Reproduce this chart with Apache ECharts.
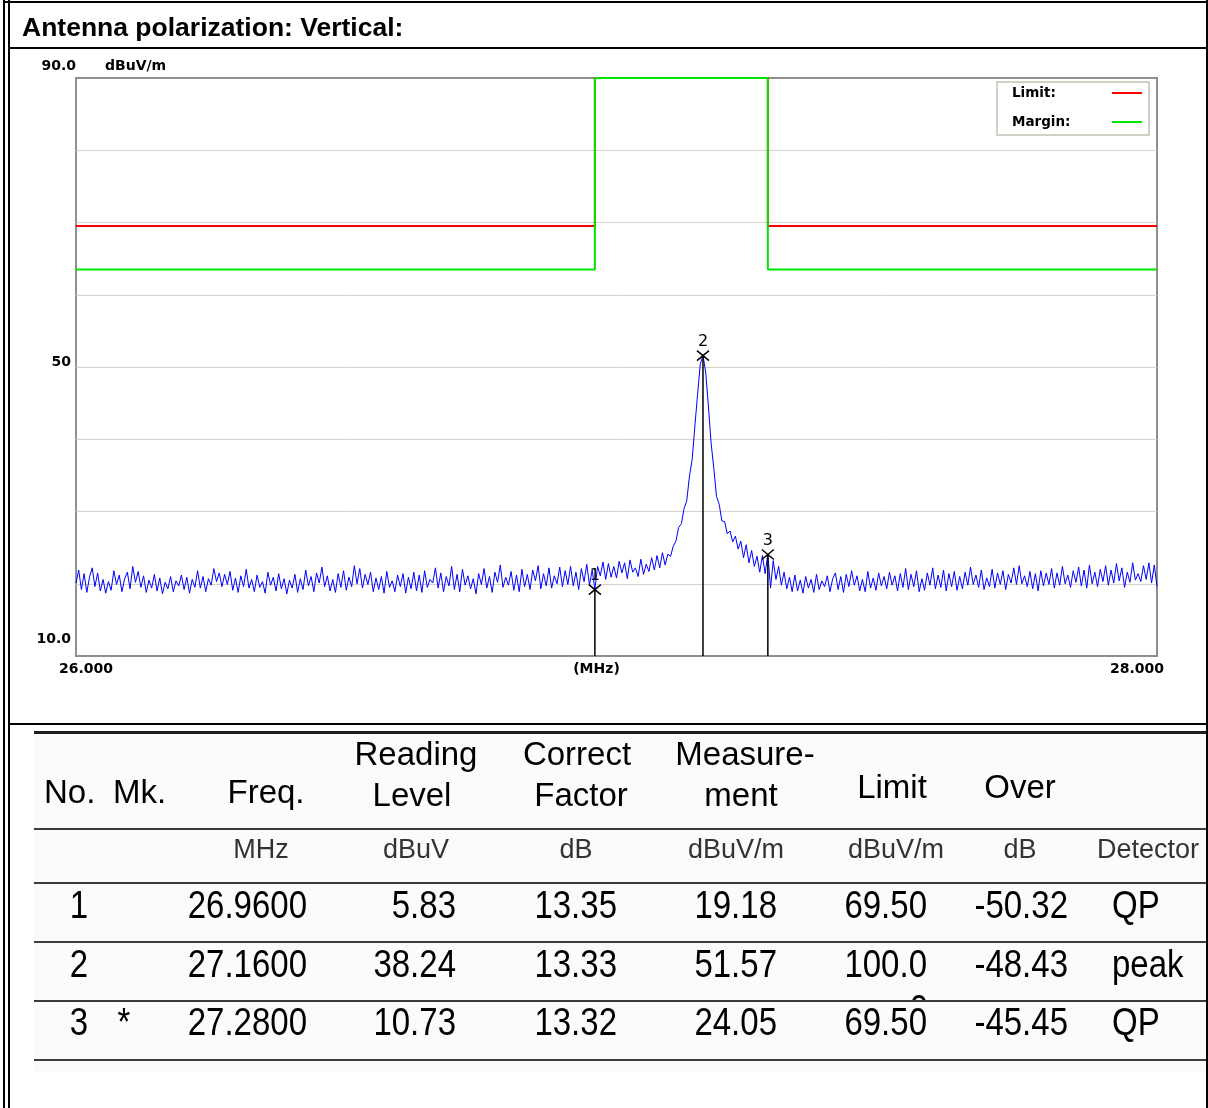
<!DOCTYPE html>
<html>
<head>
<meta charset="utf-8">
<script src="https://cdn.jsdelivr.net/npm/echarts@6/dist/echarts.min.js"></script>
<style>
  html, body { margin:0; padding:0; background:#fff; }
  body { position:relative; width:1208px; height:1108px; overflow:hidden; }
  #chart { position:absolute; left:0; top:0; width:1208px; height:1108px; z-index:2; }
</style>
</head>
<body>
<div style="position:absolute;left:34px;top:733px;width:1172px;height:339px;background:#fbfbfb;z-index:1"></div>
<div id="chart"></div>
<script>
// ---------------- DATA ----------------
const titleText = 'Antenna polarization: Vertical:';
const yUnit = 'dBuV/m';
const xUnit = '(MHz)';
const xTickValues = [26, 28];
const xTickLabels = ['26.000', '28.000'];
const yTickValues = [10, 50, 90];
const yTickLabels = ['10.0', '50', '90.0'];

// Limit / margin step lines (MHz, dBuV/m)
const limitFreq   = [26.00, 26.96, 26.96, 27.28, 27.28, 28.00];
const limitLevel  = [69.5, 69.5, 100.0, 100.0, 69.5, 69.5];
const marginLevel = [63.5, 63.5, 94.0, 94.0, 63.5, 63.5];

// Markers
const markerNo    = [1, 2, 3];
const markerFreq  = [26.96, 27.16, 27.28];
const markerLevel = [19.18, 51.57, 24.05];

const traceStartMHz = 26.0;
const traceStepMHz = 0.005;
const traceLevel = [
 20.1,21.9,19.2,21.4,18.8,20.9,22.2,19.6,21.5,19.0,20.6,18.7,20.3,19.1,21.8,19.9,21.2,18.9,20.7,21.6,
 19.3,22.4,20.2,21.7,19.5,21.1,18.8,20.5,19.4,21.3,19.0,20.8,18.6,20.2,19.3,21.0,18.9,20.4,19.7,21.2,
 19.2,20.9,18.7,20.6,19.5,21.8,19.4,21.0,18.9,20.7,19.8,22.1,20.3,21.5,19.6,21.3,19.9,21.7,19.1,20.8,
 18.8,21.1,19.6,22.0,19.4,20.6,18.9,21.2,19.5,20.3,18.7,21.6,19.8,20.9,19.0,21.4,19.3,20.7,18.6,20.5,
 19.4,21.3,18.8,20.7,19.2,21.9,19.7,21.0,18.9,21.5,20.1,22.3,19.6,21.1,19.0,20.6,18.8,21.4,19.5,21.8,
 19.1,20.9,19.6,22.5,20.0,22.1,19.4,21.3,19.9,21.6,18.9,20.8,19.2,21.0,18.7,21.7,19.5,20.4,18.9,21.2,
 19.6,21.4,18.7,20.9,19.3,21.6,19.0,21.2,18.8,21.8,19.5,20.6,20.1,22.2,19.4,21.5,18.9,21.0,19.7,22.4,
 19.2,21.3,18.9,22.0,19.8,21.1,19.3,20.7,18.6,21.4,19.9,22.1,19.4,21.0,18.8,21.6,20.2,22.6,19.5,20.9,
 19.8,21.7,19.1,21.2,18.9,22.0,19.6,21.3,19.2,21.9,20.4,22.5,19.3,21.4,19.7,22.2,19.4,21.1,20.0,22.3,
 19.6,21.8,19.9,22.4,19.7,21.6,19.2,22.1,20.3,22.7,19.8,21.9,19.2,22.4,21.1,23.0,20.6,22.8,20.9,22.4,
 20.8,23.1,21.5,22.9,20.7,23.3,21.6,22.2,21.0,23.4,21.3,22.7,21.7,23.6,21.9,23.9,22.2,24.3,22.6,24.1,
 23.8,25.2,25.9,27.8,28.3,30.4,31.5,34.9,37.2,41.8,46.2,50.4,51.6,49.3,44.6,39.5,36.0,32.1,31.0,28.7,
 28.6,26.9,27.3,25.8,26.6,24.8,25.9,23.6,25.4,22.9,24.6,22.4,23.8,21.6,23.9,21.4,24.1,19.4,23.2,20.6,
 22.4,19.8,21.6,19.3,20.9,18.9,21.2,19.0,20.5,18.7,21.0,19.4,20.6,18.8,21.3,19.2,20.4,19.6,21.1,18.9,
 20.7,21.5,19.2,21.0,18.8,21.3,19.6,21.8,19.8,21.1,19.0,20.6,18.9,21.7,19.4,20.8,19.1,21.5,19.7,21.0,
 19.3,21.6,19.8,21.1,19.0,21.4,19.5,22.1,19.2,21.3,19.6,21.8,18.9,20.7,19.1,21.5,19.8,22.2,19.3,21.2,
 19.5,21.9,19.0,21.4,19.6,21.7,19.1,21.0,19.3,21.6,19.8,22.3,19.9,21.2,19.5,21.9,19.2,20.8,19.6,22.0,
 19.4,21.5,19.9,21.8,19.2,21.3,20.1,22.2,19.9,22.5,20.0,21.1,19.6,21.7,19.3,21.4,19.0,21.8,19.7,21.5,
 19.9,22.1,19.4,21.5,19.8,22.4,20.0,21.2,19.5,21.8,20.2,22.3,19.7,21.9,19.4,22.6,20.0,21.6,19.6,22.0,
 20.3,22.5,19.8,21.9,20.1,22.8,20.4,22.2,19.5,21.6,20.2,22.9,20.5,21.4,20.3,22.5,20.6,22.9,20.1,22.6,
 19.6
];

// Result table
const tblHeadUnits = ['MHz', 'dBuV', 'dB', 'dBuV/m', 'dBuV/m', 'dB', 'Detector'];
const tblNo       = ['1', '2', '3'];
const tblMk       = ['', '', '*'];
const tblFreq     = ['26.9600', '27.1600', '27.2800'];
const tblReading  = ['5.83', '38.24', '10.73'];
const tblCorrect  = ['13.35', '13.33', '13.32'];
const tblMeasure  = ['19.18', '51.57', '24.05'];
const tblLimit    = ['69.50', '100.00', '69.50'];
const tblOver     = ['-50.32', '-48.43', '-45.45'];
const tblDetector = ['QP', 'peak', 'QP'];

// ---------------- LAYOUT HELPERS ----------------
const W = 1208;
function box(l, t, w, h, color, z) {
  const d = document.createElement('div');
  d.style.cssText = `position:absolute;left:${l}px;top:${t}px;width:${w}px;height:${h}px;background:${color};z-index:${z||4}`;
  document.body.appendChild(d);
  return d;
}
function put(txt, o) {
  const d = document.createElement('div');
  d.textContent = txt;
  const fam = o.fam || '"Liberation Sans", Arial, sans-serif';
  d.style.cssText = `position:absolute;white-space:nowrap;font-family:${fam};font-size:${o.fs}px;line-height:${o.fs}px;color:${o.color || '#000'};top:${o.top}px;z-index:5;font-weight:${o.bold ? 'bold' : 'normal'};`;
  let tf = '';
  if (o.a === 'l') d.style.left = o.x + 'px';
  else if (o.a === 'r') d.style.right = ((o.W || W) - o.x) + 'px';
  else { d.style.left = o.x + 'px'; tf += 'translateX(-50%) '; }
  if (o.sy) tf += 'scaleY(' + o.sy + ')';
  if (tf) d.style.transform = tf;
  (o.parent || document.body).appendChild(d);
  return d;
}

// frame
box(3, 1, 1205, 2, '#000');          // top
box(3, 0, 2, 1108, '#000');          // outer left
box(8, 0, 2, 1108, '#000');          // inner left
box(1206, 0, 2, 1108, '#000');       // right
box(8, 47, 1200, 2, '#000');         // under title
box(8, 723, 1200, 2, '#000');        // under chart
put(titleText, { x: 22, a: 'l', top: 14, fs: 26.5, bold: true });

// table lines
box(34, 731, 1172, 3, '#1e1e1e');
[828, 882, 941, 1000, 1059].forEach(y => box(34, y, 1172, 2, '#3c3c3c'));

// table headers
const HF = 33;
put('No.', { x: 44, a: 'l', top: 775, fs: HF });
put('Mk.', { x: 113, a: 'l', top: 775, fs: HF });
put('Freq.', { x: 266, a: 'c', top: 775, fs: HF });
put('Reading', { x: 416, a: 'c', top: 737, fs: HF });
put('Level', { x: 412, a: 'c', top: 778, fs: HF });
put('Correct', { x: 577, a: 'c', top: 737, fs: HF });
put('Factor', { x: 581, a: 'c', top: 778, fs: HF });
put('Measure-', { x: 745, a: 'c', top: 737, fs: HF });
put('ment', { x: 741, a: 'c', top: 778, fs: HF });
put('Limit', { x: 892, a: 'c', top: 770, fs: HF });
put('Over', { x: 1020, a: 'c', top: 770, fs: HF });
const unitCx = [261, 416, 576, 736, 896, 1020, 1148];
tblHeadUnits.forEach((u, i) => put(u, { x: unitCx[i], a: 'c', top: 836, fs: 27, color: '#333' }));

// table rows
const rowTop = [888, 947, 1005];
const SY = 1.15;
for (let r = 0; r < tblNo.length; r++) {
  const t = rowTop[r];
  put(tblNo[r], { x: 79, a: 'c', top: t, fs: HF, sy: SY });
  if (tblMk[r]) put(tblMk[r], { x: 124, a: 'c', top: t, fs: HF, sy: SY });
  put(tblFreq[r], { x: 307, a: 'r', top: t, fs: HF, sy: SY });
  put(tblReading[r], { x: 456, a: 'r', top: t, fs: HF, sy: SY });
  put(tblCorrect[r], { x: 617, a: 'r', top: t, fs: HF, sy: SY });
  put(tblMeasure[r], { x: 777, a: 'r', top: t, fs: HF, sy: SY });
  const lim = tblLimit[r];
  put(lim.slice(0, 5), { x: 927, a: 'r', top: t, fs: HF, sy: SY });
  if (lim.length > 5) {
    // wrapped remainder, clipped by the row line
    const ct = t + 9;
    const clip = box(900, ct, 40, 1000 - ct, 'transparent', 5);
    clip.style.overflow = 'hidden';
    put(lim.slice(5), { x: 28, a: 'r', W: 40, top: 1008 - 16.5 - ct, fs: HF, sy: SY, parent: clip });
  }
  put(tblOver[r], { x: 1068, a: 'r', top: t, fs: HF, sy: SY });
  put(tblDetector[r], { x: 1112, a: 'l', top: t, fs: HF, sy: SY });
}

// ---------------- CHART ----------------
const X_MIN = xTickValues[0], X_MAX = xTickValues[xTickValues.length - 1];
const Y_MIN = yTickValues[0], Y_MAX = yTickValues[yTickValues.length - 1];
const traceData = traceLevel.map((v, i) => [traceStartMHz + i * traceStepMHz, v]);
const limitData = limitFreq.map((f, i) => [f, limitLevel[i]]);
const marginData = limitFreq.map((f, i) => [f, Math.min(marginLevel[i], Y_MAX)]);
const markerData = markerNo.map((n, i) => [markerFreq[i], markerLevel[i], n]);

const AX_FONT = { fontFamily: 'DejaVu Sans', fontWeight: 'bold', fontSize: 14, color: '#000' };
const LG_FONT = { fontFamily: 'DejaVu Sans', fontWeight: 'bold', fontSize: 13.5, color: '#000' };
const chart = echarts.init(document.getElementById('chart'), null, { renderer: 'canvas' });
chart.setOption({
  animation: false,
  backgroundColor: 'transparent',
  grid: { left: 76, top: 78, width: 1081, height: 578, show: true, backgroundColor: '#fff',
          borderColor: '#8f8f8f', borderWidth: 2, containLabel: false, outerBoundsMode: 'none' },
  legend: {
    orient: 'vertical', left: 997, top: 82, align: 'right',
    icon: 'rect', itemWidth: 30, itemHeight: 2, itemGap: 13,
    padding: [3, 7, 5, 15], borderColor: '#d4d0c8', borderWidth: 2, backgroundColor: '#fff',
    formatter: name => '{a|' + name + '}',
    textStyle: Object.assign({ lineHeight: 16, rich: { a: Object.assign({ width: 95, align: 'left', lineHeight: 16 }, LG_FONT) } }, LG_FONT),
    data: ['Limit:', 'Margin:'], selectedMode: false
  },
  xAxis: {
    type: 'value', min: X_MIN, max: X_MAX, interval: X_MAX - X_MIN,
    axisLine: { show: false }, axisTick: { show: false }, splitLine: { show: false },
    axisLabel: {
      margin: 6, showMinLabel: true, showMaxLabel: true,
      formatter: v => {
        const i = xTickValues.indexOf(v);
        if (i < 0) return '';
        return '{' + (v === X_MIN ? 'l' : 'r') + '|' + xTickLabels[i] + '}';
      },
      rich: { l: Object.assign({ padding: [0, 0, 0, 20] }, AX_FONT), r: Object.assign({ padding: [0, 40, 0, 0] }, AX_FONT) }
    },
    name: xUnit, nameLocation: 'middle', nameGap: 6, nameMoveOverlap: false,
    nameTextStyle: Object.assign({ padding: [0, 40, 0, 0], verticalAlign: 'top' }, AX_FONT)
  },
  yAxis: {
    type: 'value', min: Y_MIN, max: Y_MAX, interval: 10,
    axisLine: { show: false }, axisTick: { show: false },
    splitLine: { show: true, showMinLine: false, showMaxLine: false, lineStyle: { color: '#d6d2ca', width: 1 } },
    axisLabel: {
      margin: 0, verticalAlign: 'middle', showMinLabel: true, showMaxLabel: true,
      formatter: v => {
        const i = yTickValues.indexOf(v);
        if (i < 0) return '';
        const s = v === Y_MAX ? 't' : (v === Y_MIN ? 'b' : 'm');
        return '{' + s + '|' + yTickLabels[i] + '}';
      },
      rich: {
        t: Object.assign({ padding: [0, 0, 24, 0] }, AX_FONT),
        m: Object.assign({ padding: [0, 5, 10, 0] }, AX_FONT),
        b: Object.assign({ padding: [0, 5, 33, 0] }, AX_FONT)
      }
    },
    name: yUnit, nameLocation: 'end', nameGap: 5,
    nameTextStyle: Object.assign({ align: 'left', verticalAlign: 'bottom', padding: [0, 0, 0, 29] }, AX_FONT)
  },
  series: [
    { name: 'Trace', type: 'line', data: traceData, showSymbol: false, symbol: 'none',
      lineStyle: { color: '#0000ff', width: 1 }, itemStyle: { color: '#0000ff' }, silent: true, z: 2 },
    { name: 'Limit:', type: 'line', data: limitData, showSymbol: false, symbol: 'none', clip: true,
      lineStyle: { color: '#ff0000', width: 2 }, itemStyle: { color: '#ff0000' }, silent: true, z: 3 },
    { name: 'Margin:', type: 'line', data: marginData, showSymbol: false, symbol: 'none', clip: false,
      lineStyle: { color: '#00e600', width: 2 }, itemStyle: { color: '#00e600' }, silent: true, z: 4 },
    { name: 'Markers', type: 'custom', data: markerData, silent: true, z: 5,
      encode: { x: 0, y: 1 },
      renderItem: (params, api) => {
        const p = api.coord([api.value(0), api.value(1)]);
        const b = api.coord([api.value(0), Y_MIN]);
        const st = { stroke: '#000', lineWidth: 1.5 };
        return { type: 'group', children: [
          { type: 'line', shape: { x1: p[0], y1: p[1], x2: b[0], y2: b[1] }, style: st },
          { type: 'line', shape: { x1: p[0] - 6, y1: p[1] - 5, x2: p[0] + 6, y2: p[1] + 5 }, style: st },
          { type: 'line', shape: { x1: p[0] - 6, y1: p[1] + 5, x2: p[0] + 6, y2: p[1] - 5 }, style: st },
          { type: 'text', style: { text: String(api.value(2)), x: p[0], y: p[1] - 14, align: 'center', verticalAlign: 'middle',
            fontFamily: 'DejaVu Sans', fontSize: 16, fill: '#000' } }
        ] };
      }
    }
  ]
});
</script>
</body>
</html>
